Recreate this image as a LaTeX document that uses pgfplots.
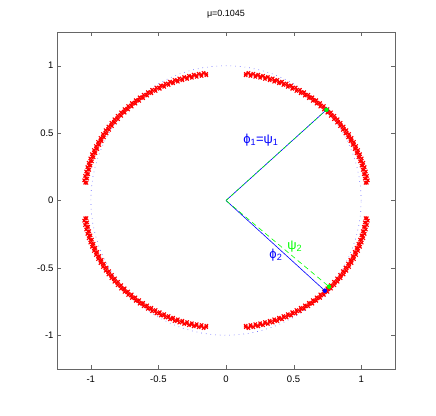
\documentclass[border=0pt]{standalone}
\usepackage{pgfplots}
\pgfplotsset{compat=1.18}
\usepackage{fontspec}
\setmainfont{Liberation Sans}
\begin{document}
\begin{tikzpicture}
\path (-57pt,-46pt) rectangle (379pt,369pt);
\begin{axis}[
  at={(0,0)}, anchor=south west,
  scale only axis, width=338pt, height=337pt,
  xmin=-1.25, xmax=1.25, ymin=-1.25, ymax=1.25,
  xtick={-1,-0.5,0,0.5,1}, ytick={-1,-0.5,0,0.5,1},
  xticklabels={-1,-0.5,0,0.5,1}, yticklabels={-1,-0.5,0,0.5,1},
  tick align=inside, major tick length=4pt,
  xtick pos=both, ytick pos=both,
  axis line style={black!60}, tick style={black!60},
  ticklabel style={font=\fontsize{9.5}{10}\selectfont},
  xticklabel style={yshift=-3pt},
  title={μ=0.1045},
  title style={font=\fontsize{9}{10}\selectfont, yshift=4pt},
  redx/.style={only marks, mark=x, mark size=2.3pt, red, line width=1.1pt},
]
% unit circle (dotted)
\addplot[blue!60, line width=0.6pt, dash pattern=on 0.7pt off 4pt] coordinates {
(1,0)(0.9962,0.0872)(0.9848,0.1736)(0.9659,0.2588)(0.9397,0.3420)(0.9063,0.4226)(0.8660,0.5)(0.8192,0.5736)(0.7660,0.6428)(0.7071,0.7071)(0.6428,0.7660)(0.5736,0.8192)(0.5,0.8660)(0.4226,0.9063)(0.3420,0.9397)(0.2588,0.9659)(0.1736,0.9848)(0.0872,0.9962)(0,1)
(-0.0872,0.9962)(-0.1736,0.9848)(-0.2588,0.9659)(-0.3420,0.9397)(-0.4226,0.9063)(-0.5,0.8660)(-0.5736,0.8192)(-0.6428,0.7660)(-0.7071,0.7071)(-0.7660,0.6428)(-0.8192,0.5736)(-0.8660,0.5)(-0.9063,0.4226)(-0.9397,0.3420)(-0.9659,0.2588)(-0.9848,0.1736)(-0.9962,0.0872)(-1,0)
(-0.9962,-0.0872)(-0.9848,-0.1736)(-0.9659,-0.2588)(-0.9397,-0.3420)(-0.9063,-0.4226)(-0.8660,-0.5)(-0.8192,-0.5736)(-0.7660,-0.6428)(-0.7071,-0.7071)(-0.6428,-0.7660)(-0.5736,-0.8192)(-0.5,-0.8660)(-0.4226,-0.9063)(-0.3420,-0.9397)(-0.2588,-0.9659)(-0.1736,-0.9848)(-0.0872,-0.9962)(0,-1)
(0.0872,-0.9962)(0.1736,-0.9848)(0.2588,-0.9659)(0.3420,-0.9397)(0.4226,-0.9063)(0.5,-0.8660)(0.5736,-0.8192)(0.6428,-0.7660)(0.7071,-0.7071)(0.7660,-0.6428)(0.8192,-0.5736)(0.8660,-0.5)(0.9063,-0.4226)(0.9397,-0.3420)(0.9659,-0.2588)(0.9848,-0.1736)(0.9962,-0.0872)(1,0)
};
% red x marks, quadrant I
\addplot[redx] coordinates {
(1.0319,0.1306)(1.0262,0.1628)(1.0192,0.1950)(1.0111,0.2269)(1.0017,0.2585)(0.9910,0.2898)(0.9792,0.3208)(0.9661,0.3514)(0.9519,0.3815)(0.9366,0.4112)(0.9200,0.4404)(0.9024,0.4690)(0.8836,0.4970)(0.8638,0.5245)(0.8430,0.5514)(0.8211,0.5775)(0.7982,0.6029)(0.7743,0.6276)(0.7495,0.6516)(0.7239,0.6747)(0.6972,0.6970)(0.6698,0.7185)(0.6416,0.7391)(0.6125,0.7588)(0.5827,0.7776)(0.5522,0.7954)(0.5210,0.8123)(0.4892,0.8282)(0.4568,0.8431)(0.4238,0.8569)(0.3903,0.8697)(0.3564,0.8814)(0.3220,0.8921)(0.2872,0.9017)(0.2521,0.9101)(0.2166,0.9175)(0.1809,0.9237)(0.1450,0.9289)
(1.0489,0.1498)(1.0425,0.1828)(1.0348,0.2156)(1.0258,0.2479)(1.0156,0.2801)(1.0041,0.3119)(0.9915,0.3433)(0.9776,0.3743)(0.9625,0.4049)(0.9462,0.4349)(0.9288,0.4644)(0.9103,0.4934)(0.8907,0.5217)(0.8700,0.5495)(0.8481,0.5765)(0.8253,0.6029)(0.8015,0.6285)(0.7767,0.6534)(0.7509,0.6774)(0.7243,0.7007)(0.6968,0.7230)(0.6683,0.7445)(0.6391,0.7651)(0.6092,0.7848)(0.5784,0.8035)(0.5469,0.8212)(0.5149,0.8379)(0.4821,0.8536)(0.4488,0.8682)(0.4149,0.8818)(0.3806,0.8944)(0.3458,0.9058)(0.3105,0.9161)(0.2749,0.9253)(0.2390,0.9335)(0.2026,0.9404)(0.1661,0.9462)
};
\addplot[redx] coordinates {
(1.0418,0.1320)(1.0360,0.1646)(1.0290,0.1971)(1.0208,0.2293)(1.0113,0.2613)(1.0006,0.2929)(0.9886,0.3242)(0.9754,0.3551)(0.9610,0.3856)(0.9455,0.4156)(0.9288,0.4451)(0.9110,0.4740)(0.8921,0.5023)(0.8721,0.5301)(0.8511,0.5572)(0.8290,0.5837)(0.8058,0.6094)(0.7817,0.6343)(0.7567,0.6586)(0.7308,0.6819)(0.7039,0.7045)(0.6762,0.7262)(0.6477,0.7470)(0.6184,0.7669)(0.5883,0.7859)(0.5575,0.8039)(0.5260,0.8210)(0.4939,0.8370)(0.4612,0.8521)(0.4278,0.8660)(0.3941,0.8790)(0.3598,0.8908)(0.3251,0.9016)(0.2899,0.9113)(0.2545,0.9198)(0.2187,0.9272)(0.1826,0.9336)(0.1464,0.9388)
};
% quadrant II
\addplot[redx] coordinates {
(-1.0319,0.1306)(-1.0262,0.1628)(-1.0192,0.1950)(-1.0111,0.2269)(-1.0017,0.2585)(-0.9910,0.2898)(-0.9792,0.3208)(-0.9661,0.3514)(-0.9519,0.3815)(-0.9366,0.4112)(-0.9200,0.4404)(-0.9024,0.4690)(-0.8836,0.4970)(-0.8638,0.5245)(-0.8430,0.5514)(-0.8211,0.5775)(-0.7982,0.6029)(-0.7743,0.6276)(-0.7495,0.6516)(-0.7239,0.6747)(-0.6972,0.6970)(-0.6698,0.7185)(-0.6416,0.7391)(-0.6125,0.7588)(-0.5827,0.7776)(-0.5522,0.7954)(-0.5210,0.8123)(-0.4892,0.8282)(-0.4568,0.8431)(-0.4238,0.8569)(-0.3903,0.8697)(-0.3564,0.8814)(-0.3220,0.8921)(-0.2872,0.9017)(-0.2521,0.9101)(-0.2166,0.9175)(-0.1809,0.9237)(-0.1450,0.9289)
(-1.0489,0.1498)(-1.0425,0.1828)(-1.0348,0.2156)(-1.0258,0.2479)(-1.0156,0.2801)(-1.0041,0.3119)(-0.9915,0.3433)(-0.9776,0.3743)(-0.9625,0.4049)(-0.9462,0.4349)(-0.9288,0.4644)(-0.9103,0.4934)(-0.8907,0.5217)(-0.8700,0.5495)(-0.8481,0.5765)(-0.8253,0.6029)(-0.8015,0.6285)(-0.7767,0.6534)(-0.7509,0.6774)(-0.7243,0.7007)(-0.6968,0.7230)(-0.6683,0.7445)(-0.6391,0.7651)(-0.6092,0.7848)(-0.5784,0.8035)(-0.5469,0.8212)(-0.5149,0.8379)(-0.4821,0.8536)(-0.4488,0.8682)(-0.4149,0.8818)(-0.3806,0.8944)(-0.3458,0.9058)(-0.3105,0.9161)(-0.2749,0.9253)(-0.2390,0.9335)(-0.2026,0.9404)(-0.1661,0.9462)
};
\addplot[redx] coordinates {
(-1.0418,0.1320)(-1.0360,0.1646)(-1.0290,0.1971)(-1.0208,0.2293)(-1.0113,0.2613)(-1.0006,0.2929)(-0.9886,0.3242)(-0.9754,0.3551)(-0.9610,0.3856)(-0.9455,0.4156)(-0.9288,0.4451)(-0.9110,0.4740)(-0.8921,0.5023)(-0.8721,0.5301)(-0.8511,0.5572)(-0.8290,0.5837)(-0.8058,0.6094)(-0.7817,0.6343)(-0.7567,0.6586)(-0.7308,0.6819)(-0.7039,0.7045)(-0.6762,0.7262)(-0.6477,0.7470)(-0.6184,0.7669)(-0.5883,0.7859)(-0.5575,0.8039)(-0.5260,0.8210)(-0.4939,0.8370)(-0.4612,0.8521)(-0.4278,0.8660)(-0.3941,0.8790)(-0.3598,0.8908)(-0.3251,0.9016)(-0.2899,0.9113)(-0.2545,0.9198)(-0.2187,0.9272)(-0.1826,0.9336)(-0.1464,0.9388)
};
% quadrant III
\addplot[redx] coordinates {
(-1.0319,-0.1306)(-1.0262,-0.1628)(-1.0192,-0.1950)(-1.0111,-0.2269)(-1.0017,-0.2585)(-0.9910,-0.2898)(-0.9792,-0.3208)(-0.9661,-0.3514)(-0.9519,-0.3815)(-0.9366,-0.4112)(-0.9200,-0.4404)(-0.9024,-0.4690)(-0.8836,-0.4970)(-0.8638,-0.5245)(-0.8430,-0.5514)(-0.8211,-0.5775)(-0.7982,-0.6029)(-0.7743,-0.6276)(-0.7495,-0.6516)(-0.7239,-0.6747)(-0.6972,-0.6970)(-0.6698,-0.7185)(-0.6416,-0.7391)(-0.6125,-0.7588)(-0.5827,-0.7776)(-0.5522,-0.7954)(-0.5210,-0.8123)(-0.4892,-0.8282)(-0.4568,-0.8431)(-0.4238,-0.8569)(-0.3903,-0.8697)(-0.3564,-0.8814)(-0.3220,-0.8921)(-0.2872,-0.9017)(-0.2521,-0.9101)(-0.2166,-0.9175)(-0.1809,-0.9237)(-0.1450,-0.9289)
(-1.0489,-0.1498)(-1.0425,-0.1828)(-1.0348,-0.2156)(-1.0258,-0.2479)(-1.0156,-0.2801)(-1.0041,-0.3119)(-0.9915,-0.3433)(-0.9776,-0.3743)(-0.9625,-0.4049)(-0.9462,-0.4349)(-0.9288,-0.4644)(-0.9103,-0.4934)(-0.8907,-0.5217)(-0.8700,-0.5495)(-0.8481,-0.5765)(-0.8253,-0.6029)(-0.8015,-0.6285)(-0.7767,-0.6534)(-0.7509,-0.6774)(-0.7243,-0.7007)(-0.6968,-0.7230)(-0.6683,-0.7445)(-0.6391,-0.7651)(-0.6092,-0.7848)(-0.5784,-0.8035)(-0.5469,-0.8212)(-0.5149,-0.8379)(-0.4821,-0.8536)(-0.4488,-0.8682)(-0.4149,-0.8818)(-0.3806,-0.8944)(-0.3458,-0.9058)(-0.3105,-0.9161)(-0.2749,-0.9253)(-0.2390,-0.9335)(-0.2026,-0.9404)(-0.1661,-0.9462)
};
\addplot[redx] coordinates {
(-1.0418,-0.1320)(-1.0360,-0.1646)(-1.0290,-0.1971)(-1.0208,-0.2293)(-1.0113,-0.2613)(-1.0006,-0.2929)(-0.9886,-0.3242)(-0.9754,-0.3551)(-0.9610,-0.3856)(-0.9455,-0.4156)(-0.9288,-0.4451)(-0.9110,-0.4740)(-0.8921,-0.5023)(-0.8721,-0.5301)(-0.8511,-0.5572)(-0.8290,-0.5837)(-0.8058,-0.6094)(-0.7817,-0.6343)(-0.7567,-0.6586)(-0.7308,-0.6819)(-0.7039,-0.7045)(-0.6762,-0.7262)(-0.6477,-0.7470)(-0.6184,-0.7669)(-0.5883,-0.7859)(-0.5575,-0.8039)(-0.5260,-0.8210)(-0.4939,-0.8370)(-0.4612,-0.8521)(-0.4278,-0.8660)(-0.3941,-0.8790)(-0.3598,-0.8908)(-0.3251,-0.9016)(-0.2899,-0.9113)(-0.2545,-0.9198)(-0.2187,-0.9272)(-0.1826,-0.9336)(-0.1464,-0.9388)
};
% quadrant IV
\addplot[redx] coordinates {
(1.0319,-0.1306)(1.0262,-0.1628)(1.0192,-0.1950)(1.0111,-0.2269)(1.0017,-0.2585)(0.9910,-0.2898)(0.9792,-0.3208)(0.9661,-0.3514)(0.9519,-0.3815)(0.9366,-0.4112)(0.9200,-0.4404)(0.9024,-0.4690)(0.8836,-0.4970)(0.8638,-0.5245)(0.8430,-0.5514)(0.8211,-0.5775)(0.7982,-0.6029)(0.7743,-0.6276)(0.7495,-0.6516)(0.7239,-0.6747)(0.6972,-0.6970)(0.6698,-0.7185)(0.6416,-0.7391)(0.6125,-0.7588)(0.5827,-0.7776)(0.5522,-0.7954)(0.5210,-0.8123)(0.4892,-0.8282)(0.4568,-0.8431)(0.4238,-0.8569)(0.3903,-0.8697)(0.3564,-0.8814)(0.3220,-0.8921)(0.2872,-0.9017)(0.2521,-0.9101)(0.2166,-0.9175)(0.1809,-0.9237)(0.1450,-0.9289)
(1.0489,-0.1498)(1.0425,-0.1828)(1.0348,-0.2156)(1.0258,-0.2479)(1.0156,-0.2801)(1.0041,-0.3119)(0.9915,-0.3433)(0.9776,-0.3743)(0.9625,-0.4049)(0.9462,-0.4349)(0.9288,-0.4644)(0.9103,-0.4934)(0.8907,-0.5217)(0.8700,-0.5495)(0.8481,-0.5765)(0.8253,-0.6029)(0.8015,-0.6285)(0.7767,-0.6534)(0.7509,-0.6774)(0.7243,-0.7007)(0.6968,-0.7230)(0.6683,-0.7445)(0.6391,-0.7651)(0.6092,-0.7848)(0.5784,-0.8035)(0.5469,-0.8212)(0.5149,-0.8379)(0.4821,-0.8536)(0.4488,-0.8682)(0.4149,-0.8818)(0.3806,-0.8944)(0.3458,-0.9058)(0.3105,-0.9161)(0.2749,-0.9253)(0.2390,-0.9335)(0.2026,-0.9404)(0.1661,-0.9462)
};
\addplot[redx] coordinates {
(1.0418,-0.1320)(1.0360,-0.1646)(1.0290,-0.1971)(1.0208,-0.2293)(1.0113,-0.2613)(1.0006,-0.2929)(0.9886,-0.3242)(0.9754,-0.3551)(0.9610,-0.3856)(0.9455,-0.4156)(0.9288,-0.4451)(0.9110,-0.4740)(0.8921,-0.5023)(0.8721,-0.5301)(0.8511,-0.5572)(0.8290,-0.5837)(0.8058,-0.6094)(0.7817,-0.6343)(0.7567,-0.6586)(0.7308,-0.6819)(0.7039,-0.7045)(0.6762,-0.7262)(0.6477,-0.7470)(0.6184,-0.7669)(0.5883,-0.7859)(0.5575,-0.8039)(0.5260,-0.8210)(0.4939,-0.8370)(0.4612,-0.8521)(0.4278,-0.8660)(0.3941,-0.8790)(0.3598,-0.8908)(0.3251,-0.9016)(0.2899,-0.9113)(0.2545,-0.9198)(0.2187,-0.9272)(0.1826,-0.9336)(0.1464,-0.9388)
};
% rays
\addplot[blue, line width=0.6pt] coordinates {(0,0)(0.743,0.673)};
\addplot[green, line width=0.6pt, dash pattern=on 4pt off 3pt] coordinates {(0,0)(0.743,0.673)};
\addplot[blue, line width=0.6pt] coordinates {(0,0)(0.731,-0.669)};
\addplot[green, line width=0.6pt, dash pattern=on 5pt off 3.5pt] coordinates {(0,0)(0.762,-0.639)};
\addplot[only marks, mark=*, mark size=2pt, blue] coordinates {(0.743,0.673)(0.731,-0.669)};
\addplot[only marks, mark=*, mark size=2pt, green] coordinates {(0.743,0.673)(0.762,-0.639)};
\node[blue, font=\fontsize{13}{15}\selectfont] at (axis cs:0.258,0.446) {ϕ\textsubscript{1}=ψ\textsubscript{1}};
\node[blue, font=\fontsize{13}{15}\selectfont] at (axis cs:0.369,-0.405) {ϕ\textsubscript{2}};
\node[green, font=\fontsize{13}{15}\selectfont] at (axis cs:0.509,-0.343) {ψ\textsubscript{2}};
\end{axis}
\end{tikzpicture}
\end{document}
